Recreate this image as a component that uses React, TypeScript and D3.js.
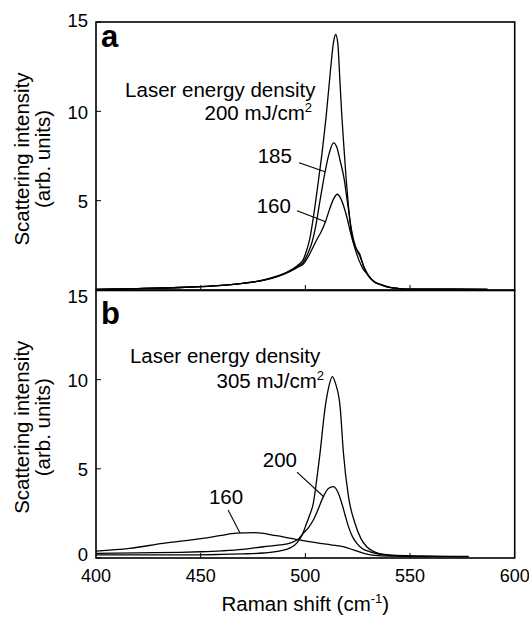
import * as d3 from "d3";

// panel a: laser energy density 200 / 185 / 160 mJ/cm2
const topX200 = [400, 420, 440, 450, 460, 470, 480, 487, 492, 496, 499, 500, 502, 504, 506, 508, 510, 512, 513.5, 514.5, 515.5, 516.6, 517.5, 518.6, 519.5, 520.5, 522, 524, 526, 528, 530, 533, 536, 540, 545, 550, 560, 570, 587];
const topY200 = [0.04, 0.08, 0.14, 0.19, 0.26, 0.37, 0.56, 0.8, 1.05, 1.35, 1.7, 2.0, 2.8, 4.2, 5.9, 7.7, 9.8, 12.3, 13.9, 14.3, 13.8, 11.5, 9.6, 7.7, 6.2, 4.8, 3.2, 2.4, 2.0, 1.25, 0.8, 0.45, 0.3, 0.15, 0.08, 0.05, 0.05, 0.05, 0.04];
const topX185 = [400, 420, 440, 450, 460, 470, 480, 487, 492, 496, 499, 501, 503.5, 505, 507, 509.4, 511.5, 513.5, 515, 516.5, 518.4, 520, 522, 524, 526, 528, 530, 533, 536, 540, 545, 550, 560, 570, 587];
const topY185 = [0.04, 0.08, 0.14, 0.19, 0.26, 0.37, 0.55, 0.78, 1.02, 1.3, 1.55, 2.0, 2.8, 3.6, 5.0, 6.6, 7.7, 8.24, 8.0, 7.3, 6.3, 5.0, 3.4, 2.4, 1.9, 1.3, 0.85, 0.45, 0.3, 0.15, 0.08, 0.05, 0.05, 0.05, 0.04];
const topX160 = [400, 420, 440, 450, 460, 470, 480, 487, 492, 496, 499, 502, 505.4, 507.5, 509.7, 511.5, 513.5, 515.2, 517, 518.4, 520, 521.6, 523.5, 525.5, 527.5, 529.3, 532, 536, 540, 545, 550, 560, 570, 587];
const topY160 = [0.04, 0.08, 0.14, 0.19, 0.26, 0.37, 0.54, 0.76, 1.0, 1.25, 1.45, 2.0, 2.8, 3.25, 3.85, 4.5, 5.1, 5.36, 5.1, 4.66, 4.0, 3.2, 2.4, 1.7, 1.2, 0.93, 0.55, 0.3, 0.16, 0.08, 0.05, 0.05, 0.05, 0.04];

// panel b: 305 / 200 / 160 mJ/cm2
const botX305 = [400, 420, 440, 450, 460, 470, 480, 488, 493, 496, 498.5, 500.6, 502.2, 503.8, 505.4, 507, 509.4, 511, 512.9, 514.5, 516.6, 518.2, 520.6, 523.7, 526.5, 529.3, 532, 534.9, 540, 550, 560, 570, 578];
const botY305 = [0.17, 0.17, 0.17, 0.18, 0.2, 0.23, 0.28, 0.4, 0.58, 0.85, 1.3, 1.95, 2.45, 3.07, 4.37, 5.87, 8.4, 9.5, 10.17, 9.75, 8.49, 5.87, 3.44, 1.95, 1.1, 0.63, 0.4, 0.26, 0.17, 0.12, 0.1, 0.09, 0.09];
const botX200 = [400, 420, 440, 450, 460, 470, 480, 488, 493, 497, 499, 501.5, 503.8, 506, 508.6, 511, 513.4, 515.5, 517.4, 519, 520.6, 522.5, 524.6, 527.5, 530.9, 535, 540, 550, 560, 570, 578];
const botY200 = [0.26, 0.29, 0.32, 0.35, 0.4, 0.48, 0.63, 0.73, 0.85, 1.1, 1.39, 1.7, 2.13, 2.7, 3.44, 3.9, 4.0, 3.7, 3.07, 2.4, 1.76, 1.2, 0.82, 0.5, 0.35, 0.22, 0.15, 0.1, 0.09, 0.08, 0.08];
const botX160 = [400, 416, 432, 451, 460, 467, 476, 486, 495.5, 505, 512, 518.5, 523, 528, 533, 540, 550, 560];
const botY160 = [0.39, 0.54, 0.82, 1.1, 1.27, 1.39, 1.42, 1.25, 1.05, 0.86, 0.74, 0.63, 0.45, 0.26, 0.15, 0.1, 0.09, 0.08];

const xTicks = [400, 450, 500, 550, 600];
const topYTicks = [5, 10, 15];
const botYTicks = [0, 5, 10, 15];

const W = 529;
const H = 617;
const left = 96, right = 514.7;

const x = d3.scaleLinear([400, 600], [left, right]);
const yTop = d3.scaleLinear([0, 15], [290, 22]);
const yBot = d3.scaleLinear([0, 15], [558, 290.5]);

const line = (xs: number[], ys: number[], y: d3.ScaleLinear<number, number>) =>
  d3.line<number>((_, i) => x(xs[i]), (d) => y(d)).curve(d3.curveMonotoneX)(ys) ?? "";

const font = "'Liberation Sans', Arial, Helvetica, sans-serif";

type Note = { text: string; sup?: string; x: number; y: number; anchor: string };
type Lead = [number, number, number, number];

const topNotes: Note[] = [
  { text: "Laser energy density", x: 413.9, y: 10.8, anchor: "start" },
  { text: "200 mJ/cm", sup: "2", x: 503.2, y: 9.51, anchor: "end" },
  { text: "185", x: 493.6, y: 7.11, anchor: "end" },
  { text: "160", x: 493.1, y: 4.31, anchor: "end" },
];
const topLeads: Lead[] = [
  [497.0, 7.12, 509.4, 6.62],
  [496.0, 4.44, 509.7, 3.82],
];
const botNotes: Note[] = [
  { text: "Laser energy density", x: 416.2, y: 10.94, anchor: "start" },
  { text: "305 mJ/cm", sup: "2", x: 508.9, y: 9.53, anchor: "end" },
  { text: "200", x: 496.0, y: 5.1, anchor: "end" },
  { text: "160", x: 462.1, y: 3.03, anchor: "middle" },
];
const botLeads: Lead[] = [
  [496.0, 4.82, 508.9, 3.42],
  [463.1, 2.69, 468.8, 1.4],
];

// small nudges so the y labels sit like the original
const labelShift = (t: number, topShift: number) => (t === 15 ? topShift : t === 0 ? -3 : 1);

const Panel = ({ y, yTicks, series, notes, leads, letter, letterY, topShift }: any) => {
  const [y0, y1] = y.range();
  return (
    <g>
      {series.map(([xs, ys]: number[][], i: number) => (
        <path key={i} d={line(xs, ys, y)} fill="none" stroke="#000" strokeWidth={1.3} />
      ))}
      <rect x={left} y={y1} width={right - left} height={y0 - y1} fill="none" stroke="#000" strokeWidth={1.6} />
      {yTicks.map((t: number) => (
        <g key={t}>
          <line x1={left} x2={left + 5} y1={y(t)} y2={y(t)} stroke="#000" strokeWidth={1} />
          <text x={left - 8} y={y(t) + labelShift(t, topShift)} dy="0.35em" textAnchor="end" fontSize={18.5}>{t}</text>
        </g>
      ))}
      {xTicks.slice(1, -1).map((t) => (
        <line key={t} x1={x(t)} x2={x(t)} y1={y0} y2={y0 - 5} stroke="#000" strokeWidth={1} />
      ))}
      {notes.map((n: Note, i: number) => (
        <text key={i} x={x(n.x)} y={y(n.y)} textAnchor={n.anchor} fontSize={20.5}>
          {n.text}
          {n.sup && <tspan dy={-8} fontSize={13}>{n.sup}</tspan>}
        </text>
      ))}
      {leads.map((l: Lead, i: number) => (
        <line key={i} x1={x(l[0])} y1={y(l[1])} x2={x(l[2])} y2={y(l[3])} stroke="#000" strokeWidth={1.1} />
      ))}
      <text x={x(402.4)} y={y(letterY)} fontSize={31} fontWeight="bold">{letter}</text>
      <g transform={`translate(0,${(y0 + y1) / 2 + 3})`}>
        <text transform="rotate(-90)" x={0} y={29} textAnchor="middle" fontSize={20.5}>Scattering intensity</text>
        <text transform="rotate(-90)" x={0} y={50} textAnchor="middle" fontSize={20.5}>(arb. units)</text>
      </g>
    </g>
  );
};

export default function App() {
  return (
    <svg width={W} height={H} style={{ position: "absolute", left: 0, top: 0, background: "#fff" }} fontFamily={font}>
      <Panel
        y={yTop}
        yTicks={topYTicks}
        series={[[topX200, topY200], [topX185, topY185], [topX160, topY160]]}
        notes={topNotes}
        leads={topLeads}
        letter="a"
        letterY={13.6}
        topShift={-1}
      />
      <Panel
        y={yBot}
        yTicks={botYTicks}
        series={[[botX305, botY305], [botX200, botY200], [botX160, botY160]]}
        notes={botNotes}
        leads={botLeads}
        letter="b"
        letterY={13.1}
        topShift={6}
      />
      {xTicks.map((t) => (
        <text key={t} x={x(t)} y={582} textAnchor="middle" fontSize={18}>{t}</text>
      ))}
      <text x={x(500)} y={611} textAnchor="middle" fontSize={20.5}>
        Raman shift (cm<tspan dy={-8} fontSize={13}>-1</tspan><tspan dy={8}>)</tspan>
      </text>
    </svg>
  );
}
